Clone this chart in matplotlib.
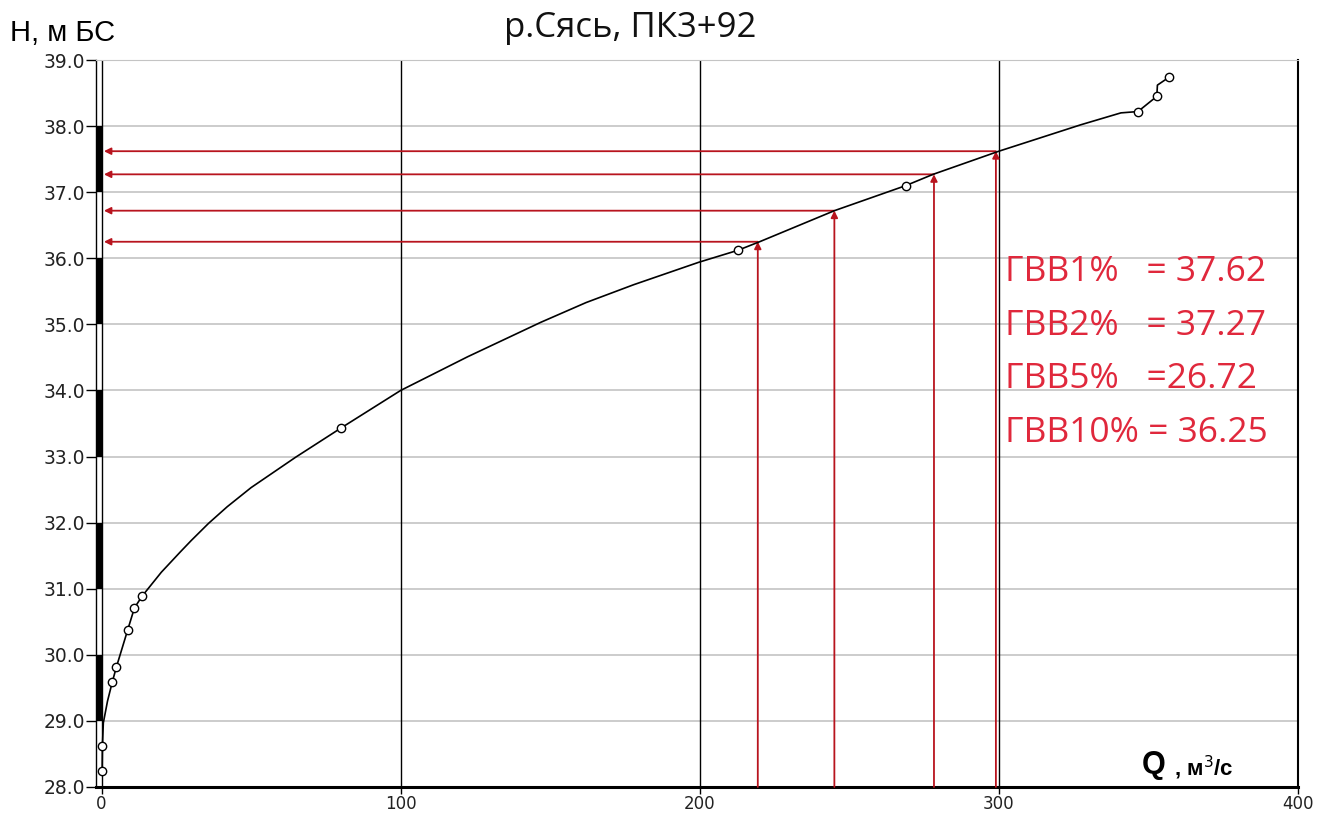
import matplotlib
matplotlib.use("Agg")
import matplotlib.pyplot as plt
from matplotlib.patches import Rectangle

# ---- data ----
curve_q = [0.2, 0.3, 0.6, 2.0, 3.6, 5.0, 8.7, 11.0, 13.6, 20.0, 26.4, 30.0, 35.8, 42.0,
           50.0, 64.9, 80.0, 100.0, 122.4, 146.8, 162.0, 177.9, 199.7, 212.7, 220.0,
           245.0, 268.9, 278.0, 300.0, 327.4, 340.8, 346.5, 352.8, 353.0, 356.9]
curve_h = [28.22, 28.62, 28.97, 29.30, 29.59, 29.82, 30.37, 30.71, 30.89, 31.25, 31.56,
           31.73, 31.99, 32.24, 32.53, 32.99, 33.43, 34.00, 34.51, 35.03, 35.33, 35.60,
           35.94, 36.12, 36.25, 36.72, 37.10, 37.27, 37.62, 38.02, 38.20, 38.22, 38.45,
           38.62, 38.74]

obs_q = [0.2, 0.2, 3.6, 5.0, 8.7, 11.0, 13.6, 79.9, 212.7, 268.9, 346.5, 352.8, 356.9]
obs_h = [28.24, 28.62, 29.59, 29.82, 30.37, 30.71, 30.89, 33.43, 36.13, 37.10, 38.22, 38.45, 38.74]

flood_q = [299.0, 278.3, 245.0, 219.4]
flood_h = [37.62, 37.27, 36.72, 36.25]
flood_labels = ["ГВВ1%   = 37.62", "ГВВ2%   = 37.27", "ГВВ5%   =26.72", "ГВВ10% = 36.25"]

x_ticks = [0, 100, 200, 300, 400]
y_ticks = [28.0, 29.0, 30.0, 31.0, 32.0, 33.0, 34.0, 35.0, 36.0, 37.0, 38.0, 39.0]
bar_black = [(37.0, 38.0), (35.0, 36.0), (33.0, 34.0), (31.0, 32.0), (29.0, 30.0)]

title = "р.Сясь, ПК3+92"
ylabel = "Н, м БС"

# ---- figure ----
W, H = 1320, 814
fig = plt.figure(figsize=(W / 100, H / 100), dpi=100)
left, right, top, bottom = 96, 1298, 60, 787
ax = fig.add_axes([left / W, 1 - bottom / H, (right - left) / W, (bottom - top) / H])
XMIN = -1.85
ax.set_xlim(XMIN, 400)
ax.set_ylim(28.0, 39.0)

red = "#b8141e"
txt_red = "#e0283c"

# grid
for y in y_ticks:
    ax.axhline(y, color="#c4c4c4", lw=1.2, zorder=1)
for x in x_ticks:
    ax.axvline(x, color="black", lw=1.0, zorder=1)

# left scale bar
for (a, b) in bar_black:
    ax.add_patch(Rectangle((XMIN, a), 0 - XMIN, b - a, facecolor="black",
                           edgecolor="none", zorder=2, clip_on=False))

# flood arrows
for q, h in zip(flood_q, flood_h):
    ax.annotate("", xy=(q, h), xytext=(q, 28.0),
                arrowprops=dict(arrowstyle="-|>", color=red, lw=1.3,
                                mutation_scale=10, shrinkA=0, shrinkB=0), zorder=3)
    ax.annotate("", xy=(0.8, h), xytext=(q, h),
                arrowprops=dict(arrowstyle="-|>", color=red, lw=1.3,
                                mutation_scale=10, shrinkA=0, shrinkB=0), zorder=3)

# rating curve and points
ax.plot(curve_q, curve_h, color="black", lw=1.2, zorder=4)
ax.plot(obs_q, obs_h, linestyle="none", marker="o", ms=6.0, mfc="white",
        mec="black", mew=1.0, zorder=5)

# spines
ax.spines["left"].set_color("black")
ax.spines["left"].set_linewidth(1.0)
ax.spines["top"].set_color("#c4c4c4")
ax.spines["right"].set_color("black")
ax.spines["right"].set_linewidth(1.5)
ax.spines["bottom"].set_color("black")
ax.spines["bottom"].set_linewidth(2.2)

ax.set_xticks(x_ticks)
ax.set_xticklabels([str(v) for v in x_ticks])
ax.set_yticks(y_ticks)
ax.set_yticklabels([f"{v:.1f}" for v in y_ticks])
ax.tick_params(axis="y", direction="out", length=7, width=1.0, pad=1,
               labelsize=13.5, colors="black", labelcolor="#222222")
ax.tick_params(axis="x", direction="out", length=5, width=1.0, pad=1,
               labelsize=12, labelcolor="#222222")

# labels
for i, t in enumerate(flood_labels):
    fig.text(1005 / W, 1 - (272 + i * 53.7) / H, t, color=txt_red,
             fontsize=25.5, family="Open Sans", va="center", ha="left")

fig.text(630 / W, 1 - 28 / H, title, fontsize=25, family="Open Sans",
         ha="center", va="center", color="#111111")
fig.text(10 / W, 1 - 33 / H, ylabel, fontsize=21, family="Liberation Sans",
         ha="left", va="center", color="black")
fig.text(1142 / W, 1 - 765 / H, "Q", fontsize=22, fontweight="bold",
         family="Liberation Sans", ha="left", va="center")
fig.text(1174 / W, 1 - 768 / H, ", м$^3$/с", fontsize=16, fontweight="bold",
         family="Liberation Sans", ha="left", va="center")

fig.savefig("out.png", dpi=100)
